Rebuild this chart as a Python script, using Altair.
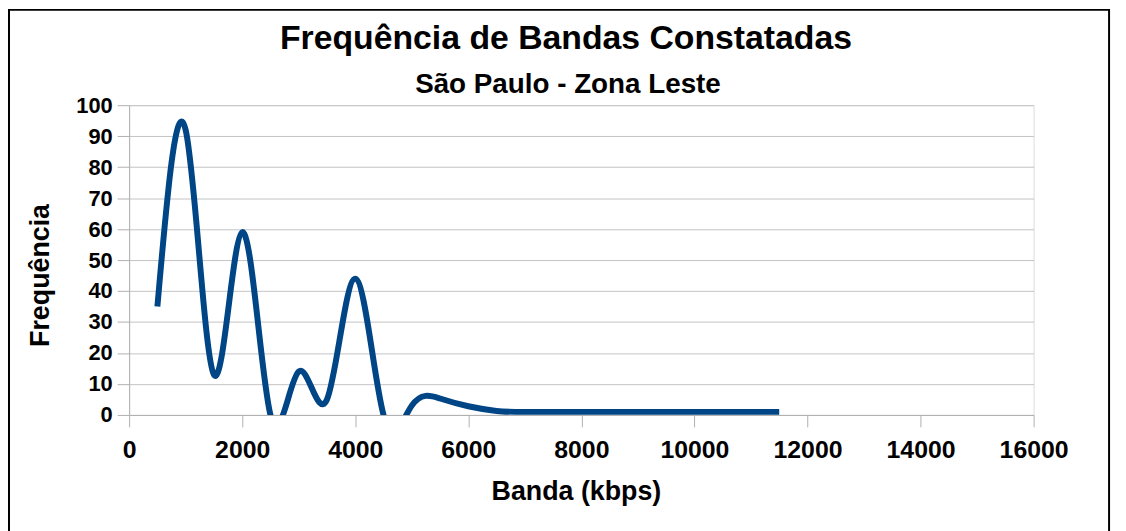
import altair as alt
import pandas as pd

# Data
banda = [500, 1000, 1500, 2000, 2500, 3000, 3500, 4000, 4500, 5000, 5500, 6000, 6500, 7000, 8000, 9000, 10000, 11500]
frequencia = [35, 92, 13, 59, 0, 14, 5, 44, 0, 3, 5.3, 2.8, 1.3, 1, 1, 1, 1, 1]
x_ticks = [0, 2000, 4000, 6000, 8000, 10000, 12000, 14000, 16000]
y_ticks = [0, 10, 20, 30, 40, 50, 60, 70, 80, 90, 100]
title_text = ["Frequência de Bandas Constatadas"]
subtitle_text = ["São Paulo - Zona Leste"]

df = pd.DataFrame({"banda": banda, "freq": frequencia})
FONT = "Liberation Sans"

line = alt.Chart(df).mark_line(
    interpolate="natural", strokeWidth=6, color="#004586", clip=True
).encode(
    x=alt.X("banda:Q",
            scale=alt.Scale(domain=[0, 16000], nice=False, zero=True),
            axis=alt.Axis(values=x_ticks, grid=False, title="Banda (kbps)",
                          tickSize=12, tickColor="#b0b0b0", domainColor="#b0b0b0",
                          labelFont=FONT, labelFontSize=25, labelFontWeight="bold",
                          labelColor="black", labelBaseline="alphabetic", labelPadding=31,
                          labelFlush=False, labelOverlap=False,
                          titleFont=FONT, titleFontSize=27, titleFontWeight="bold",
                          titleColor="black", titleX=450, titleY=85,
                          titleBaseline="alphabetic", format="d")),
    y=alt.Y("freq:Q",
            scale=alt.Scale(domain=[0, 100], nice=False),
            axis=alt.Axis(values=y_ticks, grid=True, gridColor="#c4c4c4",
                          title="Frequência",
                          tickSize=12, tickColor="#b0b0b0", domainColor="#b0b0b0",
                          labelFont=FONT, labelFontSize=22, labelFontWeight="bold",
                          labelColor="black", labelPadding=5,
                          titleFont=FONT, titleFontSize=27, titleFontWeight="bold",
                          titleColor="black", titleX=-89, titleY=171,
                          titleBaseline="middle", titleAngle=270)),
)

title = alt.Chart(pd.DataFrame({"t": title_text})).mark_text(
    font=FONT, fontSize=34, fontWeight="bold", color="black",
    align="center", baseline="alphabetic", clip=False
).encode(text="t:N", x=alt.value(440), y=alt.value(-57))

subtitle = alt.Chart(pd.DataFrame({"t": subtitle_text})).mark_text(
    font=FONT, fontSize=28, fontWeight="bold", color="black",
    align="center", baseline="alphabetic", clip=False
).encode(text="t:N", x=alt.value(442), y=alt.value(-12))

frame = alt.Chart(pd.DataFrame({"k": [0]})).mark_rect(
    fill=None, stroke="black", strokeWidth=2, clip=False
).encode(
    x=alt.value(-121), x2=alt.value(987), y=alt.value(-96), y2=alt.value(700)
)

chart = alt.layer(line, title, subtitle, frame).properties(
    width=911, height=312,
    autosize=alt.AutoSizeParams(type="none"),
    padding={"left": 122, "top": 96, "right": 85, "bottom": 115},
).configure_view(stroke="#b8b8b8", strokeWidth=1).configure(background="white")

chart.save("out.html", embed_options={"renderer": "svg", "actions": False})
